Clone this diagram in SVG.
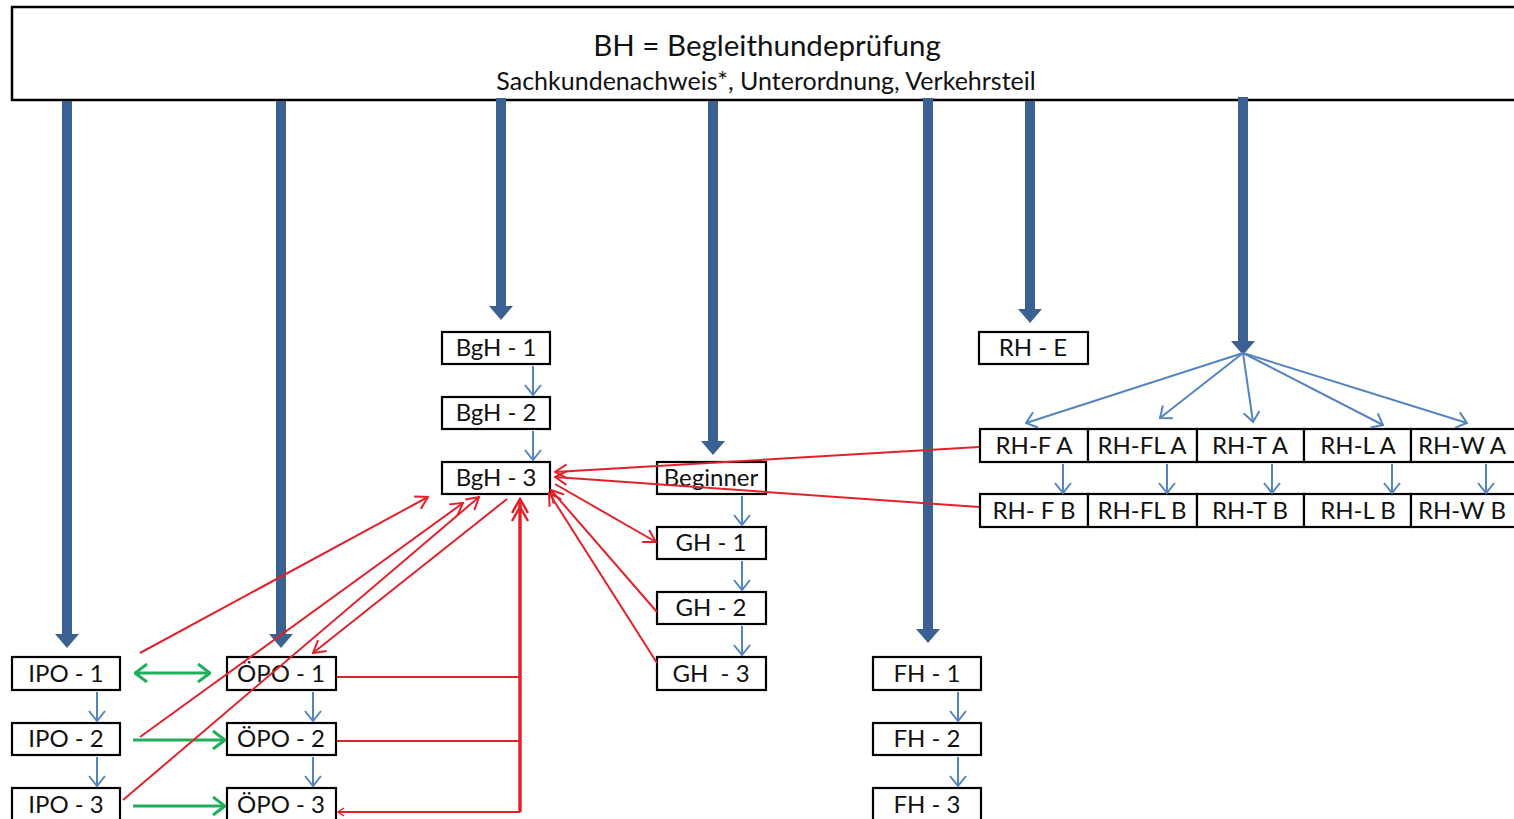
<svg xmlns="http://www.w3.org/2000/svg" width="1514" height="819" viewBox="0 0 1514 819">
<style>
.box{fill:#fff;stroke:#000;stroke-width:2.2}
.t{font-family:Lato,"Open Sans","Liberation Sans",sans-serif;font-size:24px;fill:#111;text-anchor:middle}
.thick{stroke:#3B6092;stroke-width:10;fill:none}
.thin{stroke:#5484C0;stroke-width:2;fill:none}
.red{stroke:#E2222B;stroke-width:2;fill:none}
.redt{stroke:#E2222B;stroke-width:3.5;fill:none}
.grn{stroke:#1FAF5A;stroke-width:3;fill:none}
</style>
<defs>
<marker id="tb" viewBox="0 0 14 24" refX="0" refY="12" markerWidth="14" markerHeight="24" orient="auto" markerUnits="userSpaceOnUse"><path d="M0,0 L14,12 L0,24 Z" fill="#3B6092"/></marker>
<marker id="vb" viewBox="0 0 12 18" refX="11" refY="9" markerWidth="12" markerHeight="18" orient="auto" markerUnits="userSpaceOnUse"><path d="M1,1 L11,9 L1,17" fill="none" stroke="#5484C0" stroke-width="2"/></marker>
<marker id="vr" viewBox="0 0 14 16" refX="13" refY="8" markerWidth="14" markerHeight="16" orient="auto" markerUnits="userSpaceOnUse"><path d="M1,1 L13,8 L1,15" fill="none" stroke="#E2222B" stroke-width="2"/></marker>
<marker id="vrs" viewBox="0 0 8 10" refX="7" refY="5" markerWidth="8" markerHeight="10" orient="auto" markerUnits="userSpaceOnUse"><path d="M1,1 L7,5 L1,9" fill="none" stroke="#E2222B" stroke-width="1.5"/></marker>
<marker id="vg" viewBox="0 0 14 20" refX="13" refY="10" markerWidth="14" markerHeight="20" orient="auto-start-reverse" markerUnits="userSpaceOnUse"><path d="M1,1 L13,10 L1,19" fill="none" stroke="#1FAF5A" stroke-width="3"/></marker>
</defs>

<g id="header">
<rect x="12" y="7" width="1530" height="93" fill="#fff" stroke="#000" stroke-width="2.5"/>
<text x="767" y="56" class="t" style="font-size:29.5px">BH = Begleithundeprüfung</text>
<text x="766" y="90" class="t" style="font-size:25px">Sachkundenachweis*, Unterordnung, Verkehrsteil</text>
</g>

<g id="BgH-1"><rect class="box" x="442" y="332" width="108" height="32"/><text class="t" x="496" y="356">BgH - 1</text></g>
<g id="BgH-2"><rect class="box" x="442" y="397" width="108" height="32"/><text class="t" x="496" y="421">BgH - 2</text></g>
<g id="BgH-3"><rect class="box" x="442" y="462" width="108" height="32"/><text class="t" x="496" y="486">BgH - 3</text></g>
<g id="Beginner"><rect class="box" x="657" y="462" width="109" height="32"/><text class="t" x="711" y="486">Beginner</text></g>
<g id="GH-1"><rect class="box" x="657" y="527" width="109" height="32"/><text class="t" x="711" y="551">GH - 1</text></g>
<g id="GH-2"><rect class="box" x="657" y="592" width="109" height="32"/><text class="t" x="711" y="616">GH - 2</text></g>
<g id="GH-3"><rect class="box" x="657" y="657" width="109" height="33"/><text class="t" x="711" y="682" xml:space="preserve">GH  - 3</text></g>
<g id="RH-E"><rect class="box" x="979" y="332" width="109" height="32"/><text class="t" x="1033" y="356">RH - E</text></g>

<g id="RH-FA"><rect class="box" x="980" y="429" width="108" height="33"/><text class="t" x="1034" y="454">RH-F A</text></g>
<g id="RH-FLA"><rect class="box" x="1088" y="429" width="109" height="33"/><text class="t" x="1142" y="454">RH-FL A</text></g>
<g id="RH-TA"><rect class="box" x="1197" y="429" width="107" height="33"/><text class="t" x="1250" y="454">RH-T A</text></g>
<g id="RH-LA"><rect class="box" x="1304" y="429" width="107" height="33"/><text class="t" x="1358" y="454">RH-L A</text></g>
<g id="RH-WA"><rect class="box" x="1411" y="429" width="110" height="33"/><text class="t" x="1462" y="454">RH-W A</text></g>

<g id="RH-FB"><rect class="box" x="980" y="494" width="108" height="33"/><text class="t" x="1034" y="519" xml:space="preserve">RH- F B</text></g>
<g id="RH-FLB"><rect class="box" x="1088" y="494" width="109" height="33"/><text class="t" x="1142" y="519">RH-FL B</text></g>
<g id="RH-TB"><rect class="box" x="1197" y="494" width="107" height="33"/><text class="t" x="1250" y="519">RH-T B</text></g>
<g id="RH-LB"><rect class="box" x="1304" y="494" width="107" height="33"/><text class="t" x="1358" y="519">RH-L B</text></g>
<g id="RH-WB"><rect class="box" x="1411" y="494" width="110" height="33"/><text class="t" x="1462" y="519">RH-W B</text></g>

<g id="IPO-1"><rect class="box" x="12" y="657" width="108" height="33"/><text class="t" x="66" y="682">IPO - 1</text></g>
<g id="IPO-2"><rect class="box" x="12" y="723" width="108" height="32"/><text class="t" x="66" y="747">IPO - 2</text></g>
<g id="IPO-3"><rect class="box" x="12" y="788" width="108" height="33"/><text class="t" x="66" y="813">IPO - 3</text></g>
<g id="OPO-1"><rect class="box" x="227" y="657" width="109" height="33"/><text class="t" x="281" y="682">ÖPO - 1</text></g>
<g id="OPO-2"><rect class="box" x="227" y="723" width="109" height="32"/><text class="t" x="281" y="747">ÖPO - 2</text></g>
<g id="OPO-3"><rect class="box" x="227" y="788" width="109" height="33"/><text class="t" x="281" y="813">ÖPO - 3</text></g>
<g id="FH-1"><rect class="box" x="873" y="657" width="108" height="33"/><text class="t" x="927" y="682">FH - 1</text></g>
<g id="FH-2"><rect class="box" x="873" y="723" width="108" height="32"/><text class="t" x="927" y="747">FH - 2</text></g>
<g id="FH-3"><rect class="box" x="873" y="788" width="108" height="33"/><text class="t" x="927" y="813">FH - 3</text></g>

<g id="connectors">
<line class="thick" x1="67" y1="101" x2="67" y2="634" marker-end="url(#tb)"/>
<line class="thick" x1="281" y1="101" x2="281" y2="634" marker-end="url(#tb)"/>
<line class="thick" x1="501" y1="98" x2="501" y2="306" marker-end="url(#tb)"/>
<line class="thick" x1="713" y1="101" x2="713" y2="441" marker-end="url(#tb)"/>
<line class="thick" x1="928" y1="98" x2="928" y2="629" marker-end="url(#tb)"/>
<line class="thick" x1="1030" y1="101" x2="1030" y2="309" marker-end="url(#tb)"/>
<line class="thick" x1="1243" y1="97" x2="1243" y2="341" marker-end="url(#tb)"/>

<line class="thin" x1="533" y1="366" x2="533" y2="395" marker-end="url(#vb)"/>
<line class="thin" x1="533" y1="431" x2="533" y2="460" marker-end="url(#vb)"/>
<line class="thin" x1="742" y1="496" x2="742" y2="525" marker-end="url(#vb)"/>
<line class="thin" x1="742" y1="561" x2="742" y2="590" marker-end="url(#vb)"/>
<line class="thin" x1="742" y1="626" x2="742" y2="655" marker-end="url(#vb)"/>
<line class="thin" x1="97" y1="692" x2="97" y2="721" marker-end="url(#vb)"/>
<line class="thin" x1="97" y1="757" x2="97" y2="786" marker-end="url(#vb)"/>
<line class="thin" x1="313" y1="692" x2="313" y2="721" marker-end="url(#vb)"/>
<line class="thin" x1="313" y1="757" x2="313" y2="786" marker-end="url(#vb)"/>
<line class="thin" x1="958" y1="692" x2="958" y2="721" marker-end="url(#vb)"/>
<line class="thin" x1="958" y1="757" x2="958" y2="786" marker-end="url(#vb)"/>
<line class="thin" x1="1063" y1="464" x2="1063" y2="493" marker-end="url(#vb)"/>
<line class="thin" x1="1167" y1="464" x2="1167" y2="493" marker-end="url(#vb)"/>
<line class="thin" x1="1272" y1="464" x2="1272" y2="493" marker-end="url(#vb)"/>
<line class="thin" x1="1392" y1="464" x2="1392" y2="493" marker-end="url(#vb)"/>
<line class="thin" x1="1486" y1="464" x2="1486" y2="493" marker-end="url(#vb)"/>

<line class="thin" x1="1243" y1="353" x2="1026" y2="423" marker-end="url(#vb)"/>
<line class="thin" x1="1243" y1="353" x2="1160" y2="418" marker-end="url(#vb)"/>
<line class="thin" x1="1243" y1="353" x2="1253" y2="422" marker-end="url(#vb)"/>
<line class="thin" x1="1243" y1="353" x2="1383" y2="425" marker-end="url(#vb)"/>
<line class="thin" x1="1243" y1="353" x2="1467" y2="423" marker-end="url(#vb)"/>

<line class="grn" x1="135" y1="673" x2="210" y2="673" marker-start="url(#vg)" marker-end="url(#vg)"/>
<line class="grn" x1="133" y1="740" x2="225" y2="740" marker-end="url(#vg)"/>
<line class="grn" x1="133" y1="806" x2="225" y2="806" marker-end="url(#vg)"/>

<line class="red" x1="140" y1="653" x2="428" y2="497" marker-end="url(#vr)"/>
<line class="red" x1="140" y1="737" x2="463" y2="503" marker-end="url(#vr)"/>
<line class="red" x1="123" y1="800" x2="479" y2="497" marker-end="url(#vr)"/>
<line class="red" x1="507" y1="499" x2="313" y2="653" marker-end="url(#vr)"/>
<line class="red" x1="337" y1="677" x2="520" y2="677"/>
<line class="red" x1="337" y1="741" x2="520" y2="741"/>
<line class="red" x1="520" y1="812" x2="338" y2="812" marker-end="url(#vrs)"/>
<line class="redt" x1="520" y1="812" x2="520" y2="500"/>
<path class="red" d="M512,513 L520,499 L528,513 M512,521 L520,507 L528,521" style="stroke-width:2.5"/>
<line class="red" x1="979" y1="447" x2="555" y2="472" marker-end="url(#vr)"/>
<line class="red" x1="979" y1="507" x2="555" y2="477" marker-end="url(#vr)"/>
<line class="red" x1="555" y1="484" x2="656" y2="542" marker-end="url(#vr)"/>
<line class="red" x1="657" y1="612" x2="551" y2="490" marker-end="url(#vr)"/>
<line class="red" x1="657" y1="663" x2="549" y2="493" marker-end="url(#vr)"/>
</g>
</svg>
